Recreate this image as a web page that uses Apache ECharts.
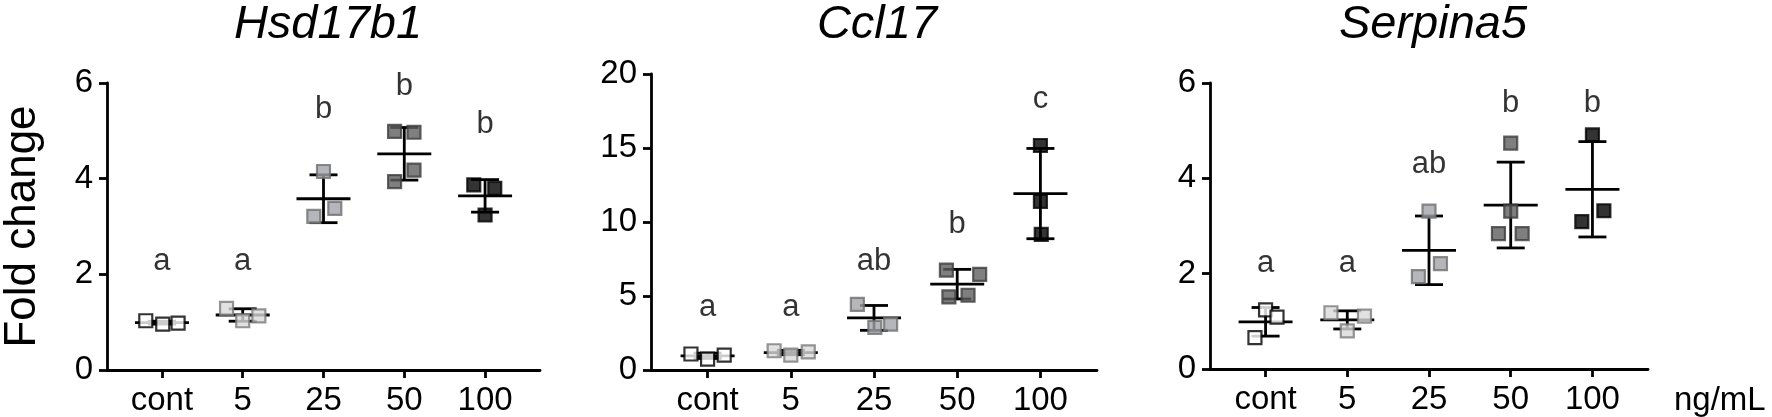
<!DOCTYPE html>
<html>
<head>
<meta charset="utf-8">
<script src="https://cdn.jsdelivr.net/npm/echarts@6/dist/echarts.min.js"></script>
<style>
html, body { margin: 0; padding: 0; background: #fff; }
#chart { width: 1772px; height: 417px; }
</style>
</head>
<body>
<div id="chart"></div>
<script>
var categories = ['cont', '5', '25', '50', '100'];
var groupFill = ['#ffffff', '#d9d9d9', '#a3a3ab', '#5f5f5f', '#000000'];
var groupBorder = ['#000000', '#7a7a7a', '#6f6f6f', '#3c3c3c', '#000000'];

// Hsd17b1
var hsdValues = [[1.03, 0.96, 0.98], [1.29, 1.03, 1.13], [4.15, 3.21, 3.38], [4.99, 4.97, 4.18, 3.94], [3.87, 3.80, 3.24]];
var hsdJitter = [[-0.2, 0.01, 0.2], [-0.2, 0, 0.2], [0, -0.12, 0.14], [-0.12, 0.12, 0.12, -0.12], [-0.14, 0.12, 0]];
var hsdMean = [0.99, 1.15, 3.58, 4.52, 3.64];
var hsdSd = [0.03, 0.13, 0.5, 0.55, 0.34];
var hsdLetters = ['a', 'a', 'b', 'b', 'b'];
var hsdLetterY = [2.27, 2.27, 5.44, 5.92, 5.13];

// Ccl17
var cclValues = [[1.08, 0.74, 1.01], [1.30, 1.01, 1.23], [4.44, 2.88, 3.10], [6.75, 6.46, 4.94, 5.05], [15.17, 11.4, 9.16]];
var cclJitter = [[-0.2, 0, 0.2], [-0.2, 0, 0.21], [-0.2, 0.01, 0.2], [-0.13, 0.27, -0.1, 0.13], [0, 0, 0.01]];
var cclMean = [0.96, 1.18, 3.52, 5.8, 11.92];
var cclSd = [0.18, 0.15, 0.84, 1.0, 3.05];
var cclLetters = ['a', 'a', 'ab', 'b', 'c'];
var cclLetterY = [4.22, 4.22, 7.36, 9.83, 18.25];

// Serpina5
var serValues = [[1.24, 1.09, 0.66], [1.18, 1.11, 0.80], [3.31, 2.21, 1.94], [4.74, 3.31, 2.84, 2.84], [4.91, 3.32, 3.09]];
var serJitter = [[0, 0.14, -0.13], [-0.2, 0.21, 0], [0, 0.14, -0.13], [0, 0, -0.15, 0.14], [0, 0.14, -0.13]];
var serMean = [0.99, 1.03, 2.49, 3.44, 3.77];
var serSd = [0.3, 0.19, 0.72, 0.9, 1.0];
var serLetters = ['a', 'a', 'ab', 'b', 'b'];
var serLetterY = [2.21, 2.21, 4.29, 5.57, 5.57];

var yTicks = [[0, 6, 2], [0, 20, 5], [0, 6, 2]];
var titles = ['Hsd17b1', 'Ccl17', 'Serpina5'];

var font = "'Liberation Sans', Arial, sans-serif";
var chart = echarts.init(document.getElementById('chart'));

var panels = [
    {values: hsdValues, jitter: hsdJitter, mean: hsdMean, sd: hsdSd, letters: hsdLetters, letterY: hsdLetterY},
    {values: cclValues, jitter: cclJitter, mean: cclMean, sd: cclSd, letters: cclLetters, letterY: cclLetterY},
    {values: serValues, jitter: serJitter, mean: serMean, sd: serSd, letters: serLetters, letterY: serLetterY}
];

var grids = [
    {left: 107, top: 83, width: 433, height: 287},
    {left: 651, top: 74, width: 446, height: 297},
    {left: 1210, top: 83, width: 438, height: 289}
];
var titleX = [323, 872, 1428];

var xAxes = [], yAxes = [], series = [], titleList = [];

function errorBars(params, api) {
    var i = api.value(0), m = api.value(1), s = api.value(2);
    var c = api.coord([i, m]);
    var hi = api.coord([i, m + s]);
    var lo = api.coord([i, m - s]);
    var st = {stroke: '#000', lineWidth: 2.8};
    return {
        type: 'group',
        children: [
            {type: 'line', shape: {x1: c[0] - 27, y1: c[1], x2: c[0] + 27, y2: c[1]}, style: st},
            {type: 'line', shape: {x1: c[0], y1: hi[1], x2: c[0], y2: lo[1]}, style: st},
            {type: 'line', shape: {x1: c[0] - 14, y1: hi[1], x2: c[0] + 14, y2: hi[1]}, style: st},
            {type: 'line', shape: {x1: c[0] - 14, y1: lo[1], x2: c[0] + 14, y2: lo[1]}, style: st}
        ]
    };
}

panels.forEach(function (p, k) {
    titleList.push({
        text: titles[k],
        left: titleX[k],
        top: -4,
        textAlign: 'center',
        textStyle: {fontFamily: font, fontSize: 47, fontStyle: 'italic', fontWeight: 'normal', color: '#000'}
    });
    xAxes.push({
        type: 'value',
        gridIndex: k,
        min: -0.68,
        max: 4.68,
        axisLine: {onZero: false, lineStyle: {color: '#000', width: 2.8}},
        axisTick: {customValues: [0, 1, 2, 3, 4], length: 8, lineStyle: {color: '#000', width: 2.8}},
        axisLabel: {
            customValues: [0, 1, 2, 3, 4],
            formatter: function (v) { return categories[v]; },
            margin: 14,
            fontFamily: font, fontSize: 33, color: '#000'
        },
        splitLine: {show: false},
        name: k === 2 ? 'ng/mL' : '',
        nameLocation: 'end',
        nameGap: 26,
        nameTextStyle: {fontFamily: font, fontSize: 33, color: '#000', align: 'left', verticalAlign: 'top', padding: [15, 0, 0, 0]}
    });
    yAxes.push({
        type: 'value',
        gridIndex: k,
        min: yTicks[k][0],
        max: yTicks[k][1],
        interval: yTicks[k][2],
        axisLine: {show: true, onZero: false, lineStyle: {color: '#000', width: 2.8}},
        axisTick: {show: true, length: 8, lineStyle: {color: '#000', width: 2.8}},
        axisLabel: {margin: 14, fontFamily: font, fontSize: 33, color: '#000'},
        splitLine: {show: false},
        name: k === 0 ? 'Fold change' : '',
        nameLocation: 'middle',
        nameGap: 62,
        nameTextStyle: {fontFamily: font, fontSize: 44, color: '#000'}
    });

    var barData = [];
    var pointData = [];
    var letterData = [];
    for (var i = 0; i < categories.length; i++) {
        barData.push([i, p.mean[i], p.sd[i]]);
        for (var j = 0; j < p.values[i].length; j++) {
            pointData.push({
                value: [i + p.jitter[i][j], p.values[i][j]],
                itemStyle: {color: groupFill[i], borderColor: groupBorder[i], borderWidth: 2.2}
            });
        }
        letterData.push({value: [i, p.letterY[i]], name: p.letters[i]});
    }

    series.push({
        type: 'custom',
        xAxisIndex: k,
        yAxisIndex: k,
        renderItem: errorBars,
        data: barData,
        z: 2
    });
    series.push({
        type: 'scatter',
        xAxisIndex: k,
        yAxisIndex: k,
        symbol: 'rect',
        symbolSize: 13,
        data: pointData,
        z: 3
    });
    series.push({
        type: 'scatter',
        xAxisIndex: k,
        yAxisIndex: k,
        symbolSize: 0,
        data: letterData,
        label: {
            show: true,
            position: 'inside',
            formatter: '{b}',
            fontFamily: font,
            fontSize: 31,
            color: '#000',
            textBorderWidth: 0
        },
        z: 4
    });
});

chart.setOption({
    animation: false,
    backgroundColor: '#fff',
    title: titleList,
    grid: grids,
    xAxis: xAxes,
    yAxis: yAxes,
    series: series
});
</script>
</body>
</html>
